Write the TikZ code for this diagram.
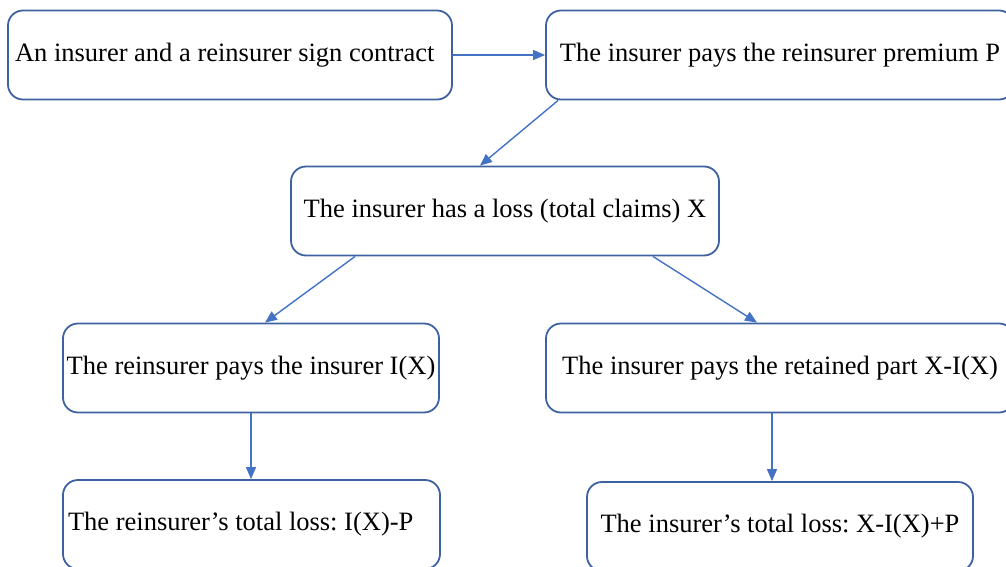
\documentclass[tikz,border=0pt]{standalone}
\usepackage{fontspec}
\setmainfont{Liberation Serif}
\usetikzlibrary{arrows.meta,calc}
\frenchspacing

\definecolor{boxblue}{RGB}{62,98,160}
\definecolor{arrowblue}{RGB}{68,114,196}

\tikzset{
	stage/.style={draw=boxblue, line width=1.8pt, rounded corners=15pt, minimum height=89pt, inner sep=0pt, font=\fontsize{26.5}{30}\selectfont},
	flow/.style={-{Triangle[length=12pt,width=10pt]}, draw=arrowblue, line width=1.4pt}
}

\begin{document}
\begin{tikzpicture}[x=1pt,y=-1pt]
		\useasboundingbox (0,0) rectangle (1006,567);
		\clip (0,0) rectangle (1006,567);
		
		% Contract and premium
		\node[stage, minimum width=444pt, text width=430pt, align=flush left] (sign) at (230,55) {An insurer and a reinsurer sign contract};
		\node[stage, minimum width=468pt] (premium) at (780,55) {The insurer pays the reinsurer premium P};
		
		% Loss
		\node[stage, minimum width=428pt] (loss) at (505,211) {The insurer has a loss (total claims) X};
		
		% Split of the loss
		\node[stage, minimum width=376pt] (pays) at (251,368) {The reinsurer pays the insurer I(X)};
		\node[stage, minimum width=468pt] (retained) at (780,368) {The insurer pays the retained part X-I(X)};
		
		% Total losses
		\node[stage, minimum width=377pt, text width=367pt, align=flush left] (reloss) at (251.5,524.5) {The reinsurer’s total loss: I(X)-P};
		\node[stage, minimum width=386pt] (inloss) at (780,526.5) {The insurer’s total loss: X-I(X)+P};
		
		% Flow arrows
		\draw[flow] (sign.east) -- (premium.west);
		\draw[flow] ($(premium.south west)+(13,0)$) -- ($(loss.north)+(-25,0)$);
		\draw[flow] ($(loss.south west)+(65,0)$) -- ($(pays.north)+(14,0)$);
		\draw[flow] ($(loss.south east)+(-67,0)$) -- ($(retained.north)+(-23,0)$);
		\draw[flow] (pays.south) -- (reloss.north -| pays.south);
		\draw[flow] ($(retained.south)+(-8,0)$) -- ($(inloss.north)+(-8,0)$);
	\end{tikzpicture}
\end{document}
